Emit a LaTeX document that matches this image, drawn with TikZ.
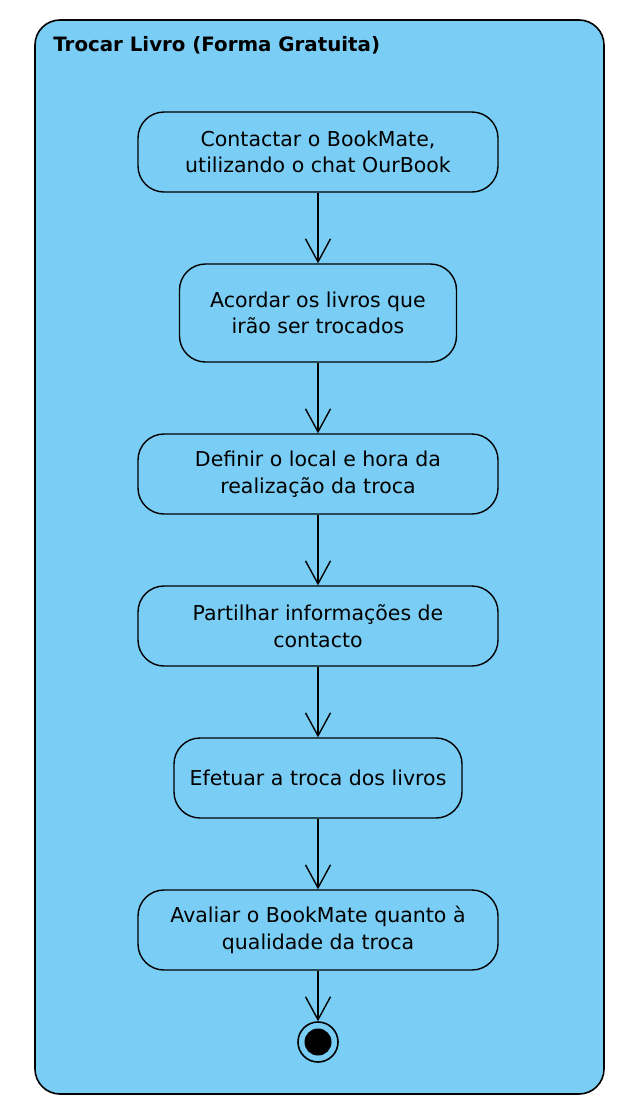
\documentclass[tikz,border=0pt]{standalone}
\usepackage{fontspec}
\setmainfont{DejaVu Sans}
\usepackage{tikz}
\usetikzlibrary{shapes, arrows.meta, positioning}

\definecolor{umlblue}{RGB}{122,206,245}

\begin{document}
\begin{tikzpicture}[x=1pt, y=1pt, thick, >={Straight Barb[length=23pt, width=25pt]}]

    % Define block styles
    \tikzstyle{frame} = [draw, line width=1.6pt, fill=umlblue, rounded corners=25pt]
    \tikzstyle{action} = [rectangle, draw, line width=1.4pt, fill=umlblue, align=center,
        rounded corners=26pt, minimum width=360pt, minimum height=80pt,
        font=\fontsize{20.5}{26.5}\selectfont]
    \tikzstyle{line} = [draw, line width=1.4pt, ->]
    \tikzstyle{finalstate} = [circle, draw, line width=1.6pt, fill=umlblue, minimum size=40pt, inner sep=0pt]

    \useasboundingbox (0,0) rectangle (632,-1114);

    % Activity frame
    \draw [frame] (35,-20) rectangle (604,-1094);
    \node [anchor=west, inner sep=0pt, font=\fontsize{19.8}{22}\selectfont\bfseries] (title) at (53,-45) {Trocar Livro (Forma Gratuita)};

    % Define nodes
    \node [action] (contactar) at (318,-152) {Contactar o BookMate,\\utilizando o chat OurBook};
    \node [action, minimum width=277pt, minimum height=98pt] (acordar) at (318,-313) {Acordar os livros que\\irão ser trocados};
    \node [action] (definir) at (318,-474) {Definir o local e hora da\\realização da troca};
    \node [action] (partilhar) at (318,-626) {Partilhar informações de\\contacto};
    \node [action, minimum width=288pt] (efetuar) at (318,-778) {Efetuar a troca dos livros};
    \node [action] (avaliar) at (318,-930) {Avaliar o BookMate quanto à\\qualidade da troca};
    \node [finalstate] (fim) at (318,-1042) {};
    \node [circle, fill=black, minimum size=27pt, inner sep=0pt] (fimdot) at (fim) {};

    % Draw edges
    \path [line] (contactar) -- (acordar);
    \path [line] (acordar) -- (definir);
    \path [line] (definir) -- (partilhar);
    \path [line] (partilhar) -- (efetuar);
    \path [line] (efetuar) -- (avaliar);
    \path [line] (avaliar) -- (fim);

\end{tikzpicture}
\end{document}
